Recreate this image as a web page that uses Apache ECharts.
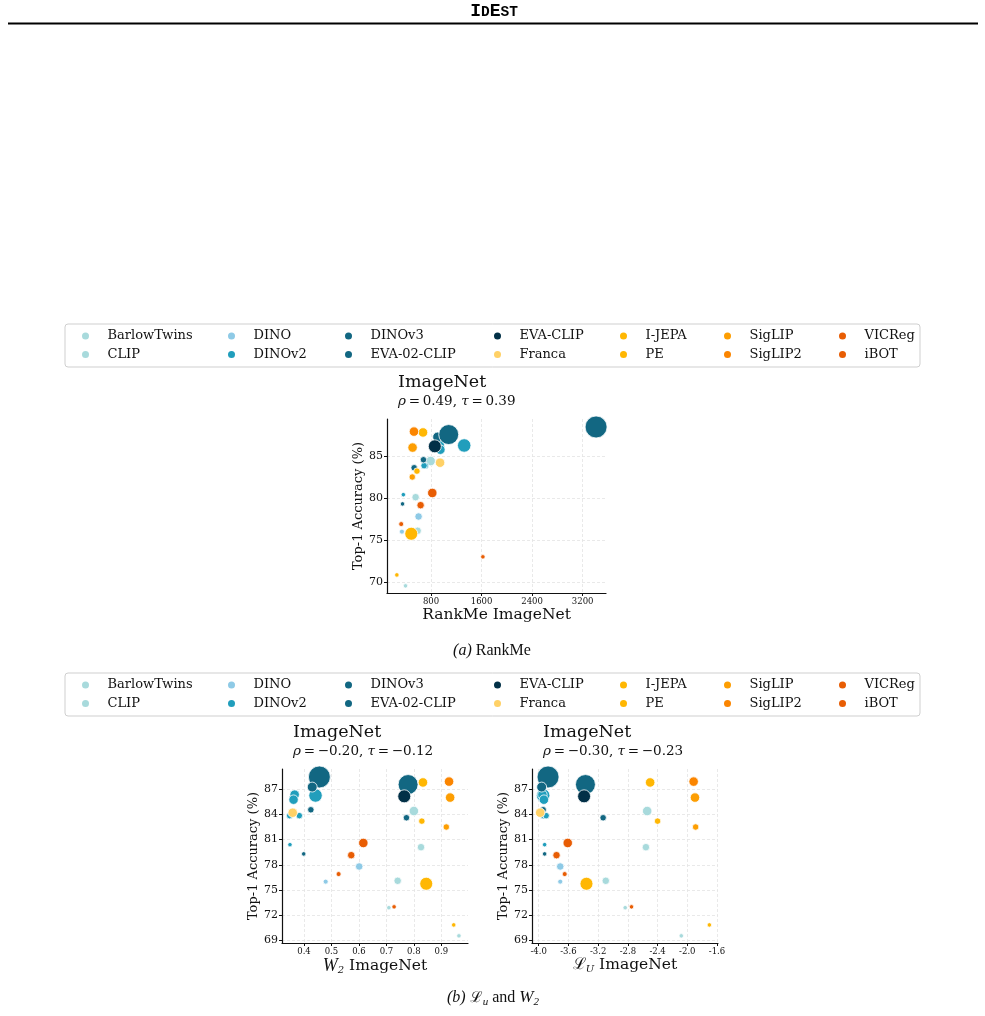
<!DOCTYPE html>
<html>
<head>
<meta charset="utf-8">
<script src="https://cdn.jsdelivr.net/npm/echarts@6/dist/echarts.min.js"></script>
<style>
  html, body { margin: 0; padding: 0; background: #fff; }
  #chart { width: 985px; height: 1016px; }
</style>
</head>
<body>
<div id="chart"></div>
<script>
/* legend order (column-major, two rows) */
const models = ['BarlowTwins', 'CLIP', 'DINO', 'DINOv2', 'DINOv3', 'EVA-02-CLIP', 'EVA-CLIP',
                'Franca', 'I-JEPA', 'PE', 'SigLIP', 'SigLIP2', 'VICReg', 'iBOT'];
const modelColors = ['#a8dadc', '#a8dadc', '#8ecae6', '#219ebc', '#126782', '#126782', '#023047',
                     '#ffd166', '#ffb703', '#ffb703', '#fd9e02', '#fb8500', '#e85d04', '#e85d04'];

/* one entry per checkpoint */
const pointModel = ['BarlowTwins', 'BarlowTwins',
                    'CLIP', 'CLIP', 'CLIP',
                    'DINO', 'DINO',
                    'DINOv2', 'DINOv2', 'DINOv2', 'DINOv2', 'DINOv2', 'DINOv2',
                    'DINOv3', 'DINOv3', 'DINOv3', 'DINOv3',
                    'EVA-02-CLIP', 'EVA-02-CLIP',
                    'EVA-CLIP',
                    'Franca',
                    'I-JEPA',
                    'PE', 'PE', 'PE',
                    'SigLIP', 'SigLIP',
                    'SigLIP2',
                    'VICReg',
                    'iBOT', 'iBOT', 'iBOT'];
const top1 = [72.9, 69.55,
              76.1, 84.4, 80.1,
              77.8, 76.0,
              86.25, 86.35, 85.75, 83.85, 83.85, 80.4,
              88.45, 87.25, 84.55, 79.3,
              87.55, 83.6,
              86.15,
              84.2,
              75.75,
              87.8, 83.2, 70.85,
              86.0, 82.5,
              87.9,
              73.0,
              80.6, 79.15, 76.9];
const rankMe = [null, 396,
                588, 794, 556,
                603, 339,
                1325, 937, 948, 710, 690, 362,
                3413, 905, 680, 349,
                1080, 533,
                860,
                943,
                487,
                673, 577, 259,
                508, 503,
                530,
                1621,
                820, 635, 328];
const w2 = [0.709, 0.964,
            0.741, 0.800, 0.826,
            0.601, 0.479,
            0.442, 0.366, 0.362, 0.348, 0.383, 0.349,
            0.456, 0.430, 0.425, 0.399,
            0.779, 0.773,
            0.765,
            0.359,
            0.845,
            0.833, 0.829, 0.945,
            0.932, 0.918,
            0.928,
            0.728,
            0.616, 0.572, 0.526];
const lu = [-2.836, -2.081,
            -3.097, -2.540, -2.557,
            -3.710, -3.710,
            -3.940, -3.950, -3.930, -3.940, -3.900, -3.920,
            -3.874, -3.960, -3.940, -3.920,
            -3.371, -3.133,
            -3.389,
            -3.980,
            -3.357,
            -2.500, -2.400, -1.703,
            -1.897, -1.888,
            -1.915,
            -2.751,
            -3.609, -3.760, -3.650];
// approx. model size (M params)
const paramsM = [55, 55,
                 500, 1050, 500,
                 500, 100,
                 2750, 1050, 1050, 300, 300, 55,
                 9000, 1200, 300, 55,
                 7200, 300,
                 2500,
                 1050,
                 2500,
                 1050, 300, 55,
                 1050, 300,
                 1050,
                 55,
                 1050, 500, 100];

const rankMeTicks = [800, 1600, 2400, 3200];
const w2Ticks = [0.4, 0.5, 0.6, 0.7, 0.8, 0.9];
const luTicks = [-4.0, -3.6, -3.2, -2.8, -2.4, -2.0, -1.6];
const accTicksA = [70, 75, 80, 85];
const accTicksB = [69, 72, 75, 78, 81, 84, 87];
const rho = [0.49, -0.20, -0.30];
const tau = [0.39, -0.12, -0.23];

const SERIF = 'DejaVu Serif';
const TIMES = 'Liberation Serif';

const panels = [
    {x: rankMe, xMin: 103, xMax: 3570, xTicks: rankMeTicks, yTicks: accTicksA,
     fmt: v => String(v), name: 'RankMe ImageNet',
     grid: {left: 387, top: 419, width: 219, height: 174}},
    {x: w2, xMin: 0.32, xMax: 0.997, xTicks: w2Ticks, yTicks: accTicksB,
     fmt: v => v.toFixed(1), name: '{w|W}{s|2} ImageNet',
     grid: {left: 282, top: 769, width: 186, height: 174}},
    {x: lu, xMin: -4.09, xMax: -1.587, xTicks: luTicks, yTicks: accTicksB,
     fmt: v => v.toFixed(1), name: '{l|ℒ}{s|U} ImageNet',
     grid: {left: 532, top: 769, width: 186, height: 174}},
];

const fmtCorr = v => (v < 0 ? '−' : '') + Math.abs(v).toFixed(2);
const sizeOf = p => 3 + 0.2 * Math.sqrt(p);

const nameRich = {
    w: {fontFamily: TIMES, fontStyle: 'italic', fontSize: 18, lineHeight: 20, verticalAlign: 'middle'},
    l: {fontFamily: SERIF, fontSize: 16, lineHeight: 20, verticalAlign: 'middle'},
    s: {fontFamily: SERIF, fontStyle: 'italic', fontSize: 10, lineHeight: 20, verticalAlign: 'bottom'},
};

const xAxes = [], yAxes = [], series = [], graphics = [];

panels.forEach((p, i) => {
    xAxes.push({
        type: 'value', gridIndex: i, min: p.xMin, max: p.xMax,
        name: p.name, nameLocation: 'middle', nameGap: i === 0 ? 9 : 6,
        nameTextStyle: {fontFamily: SERIF, fontSize: 15.5, color: '#111', rich: nameRich},
        axisLine: {show: true, onZero: false, lineStyle: {color: '#111', width: 1.2}},
        axisTick: {show: true, length: 3, customValues: p.xTicks, lineStyle: {color: '#111'}},
        axisLabel: {customValues: p.xTicks, formatter: p.fmt, fontFamily: SERIF, fontSize: 8.5, color: '#111', margin: 4},
        splitLine: {show: true, lineStyle: {color: '#e3e3e3', type: [3, 2], width: 0.8}},
    });
    yAxes.push({
        type: 'value', gridIndex: i, min: 68.7, max: 89.4,
        name: 'Top-1 Accuracy (%)', nameLocation: 'middle', nameGap: 18,
        nameTextStyle: {fontFamily: SERIF, fontSize: 13, color: '#111'},
        axisLine: {show: true, onZero: false, lineStyle: {color: '#111', width: 1.2}},
        axisTick: {show: true, length: 3, customValues: p.yTicks, lineStyle: {color: '#111'}},
        axisLabel: {customValues: p.yTicks, fontFamily: SERIF, fontSize: 11, color: '#111', margin: 4},
        splitLine: {show: true, lineStyle: {color: '#e3e3e3', type: [3, 2], width: 0.8}},
    });

    models.forEach((m, k) => {
        const data = [];
        pointModel.forEach((pm, j) => {
            if (pm === m && p.x[j] != null) data.push([p.x[j], top1[j], paramsM[j]]);
        });
        data.sort((a, b) => b[2] - a[2]);
        series.push({
            type: 'scatter', name: m, xAxisIndex: i, yAxisIndex: i, data,
            symbolSize: v => sizeOf(v[2]),
            itemStyle: {color: modelColors[k], borderColor: '#fff', borderWidth: 0.8, opacity: 1},
            emphasis: {disabled: true},
        });
    });

    // panel title
    const tx = p.grid.left + 11;
    const ty = p.grid.top - 37;
    graphics.push({
        type: 'text', x: tx, y: ty,
        style: {text: 'ImageNet', fontFamily: SERIF, fontSize: 17.5, fill: '#111', verticalAlign: 'middle'},
    });
    graphics.push({
        type: 'text', x: tx, y: ty + 19,
        style: {
            text: `{g|ρ}\u2009=\u2009${fmtCorr(rho[i])}, {g|τ}\u2009=\u2009${fmtCorr(tau[i])}`,
            fontFamily: SERIF, fontSize: 13.5, fill: '#111', verticalAlign: 'middle',
            rich: {g: {fontFamily: SERIF, fontStyle: 'italic', fontSize: 13.5}},
        },
    });
});

// legends: one small vertical legend per column, two boxes
const legendCols = [85, 231, 348, 497, 623, 727, 842];
const legends = [];
[336, 685].forEach(rowY => {
    graphics.push({
        type: 'rect', z: -1,
        shape: {x: 65, y: rowY - 12, width: 855, height: 43, r: 3},
        style: {fill: '#fff', stroke: '#cfcfcf', lineWidth: 1},
    });
    legendCols.forEach((cx, c) => {
        legends.push({
            orient: 'vertical', left: cx - 3, top: rowY - 7, padding: 0,
            itemWidth: 34, itemHeight: 7, itemGap: 4.5, icon: 'circle',
            data: [models[2 * c], models[2 * c + 1]],
            itemStyle: {borderWidth: 0},
            textStyle: {fontFamily: SERIF, fontSize: 13, color: '#111', lineHeight: 14},
        });
    });
});

// page header and captions
graphics.push({
    type: 'text', x: 494, y: 20,
    style: {
        text: '{b|I}{s|D}{b|E}{s|ST}', align: 'center', verticalAlign: 'bottom', fill: '#000',
        rich: {
            b: {fontFamily: 'Liberation Mono', fontWeight: 'bold', fontSize: 18, verticalAlign: 'bottom'},
            s: {fontFamily: 'Liberation Mono', fontWeight: 'bold', fontSize: 14.5, verticalAlign: 'bottom'},
        },
    },
});
graphics.push({
    type: 'line', shape: {x1: 8, y1: 23.5, x2: 978, y2: 23.5},
    style: {stroke: '#000', lineWidth: 2},
});
graphics.push({
    type: 'text', x: 492, y: 651,
    style: {
        text: '{i|(a)} RankMe', align: 'center', verticalAlign: 'middle',
        fontFamily: TIMES, fontSize: 16, fill: '#111',
        rich: {i: {fontFamily: TIMES, fontStyle: 'italic', fontSize: 16}},
    },
});
graphics.push({
    type: 'text', x: 493, y: 998,
    style: {
        text: '{i|(b)} {l|ℒ}{s|u} and {w|W}{s|2}', align: 'center', verticalAlign: 'middle',
        fontFamily: TIMES, fontSize: 16, fill: '#111',
        rich: {
            i: {fontFamily: TIMES, fontStyle: 'italic', fontSize: 16, lineHeight: 20},
            l: {fontFamily: SERIF, fontSize: 15, lineHeight: 20},
            w: {fontFamily: TIMES, fontStyle: 'italic', fontSize: 17, lineHeight: 20},
            s: {fontFamily: TIMES, fontStyle: 'italic', fontSize: 11, lineHeight: 20, verticalAlign: 'bottom'},
        },
    },
});

const chart = echarts.init(document.getElementById('chart'));
chart.setOption({
    animation: false,
    backgroundColor: '#fff',
    grid: panels.map(p => ({...p.grid, containLabel: false})),
    xAxis: xAxes,
    yAxis: yAxes,
    legend: legends,
    series,
    graphic: graphics,
});
</script>
</body>
</html>
